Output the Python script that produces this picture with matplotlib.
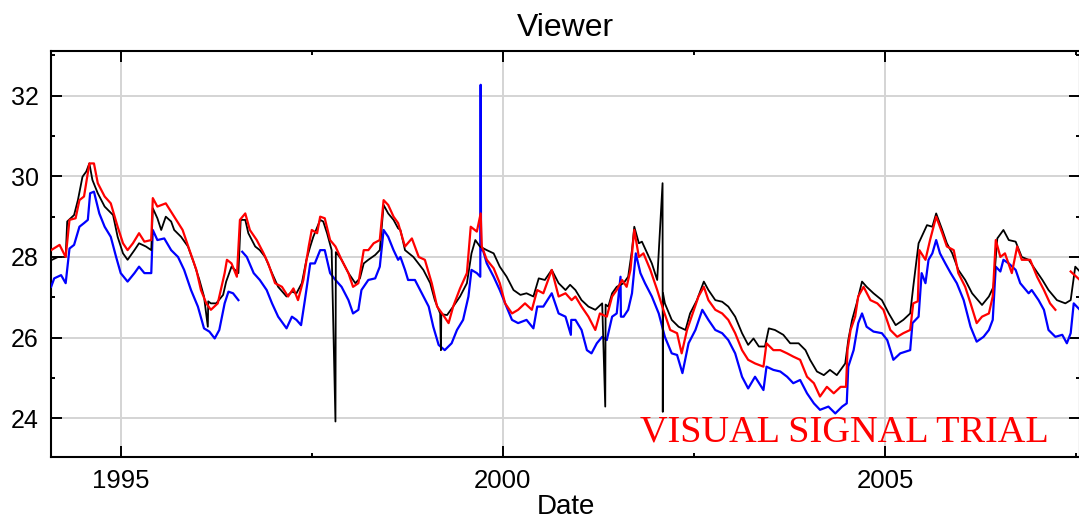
import numpy as np
import matplotlib
matplotlib.use("Agg")
import matplotlib.pyplot as plt
from matplotlib.ticker import MultipleLocator

# decimal-year dates and values
black_t = [1994.09, 1994.18, 1994.28, 1994.30, 1994.39, 1994.44, 1994.50, 1994.55, 1994.59, 1994.63,
           1994.70, 1994.79, 1994.90, 1994.96, 1995.03, 1995.09, 1995.18, 1995.24, 1995.33, 1995.40,
           1995.42, 1995.48, 1995.53, 1995.59, 1995.66, 1995.70, 1995.79, 1995.88, 1995.96, 1996.03,
           1996.09, 1996.14, 1996.145, 1996.18, 1996.25, 1996.34, 1996.38, 1996.45, 1996.54, 1996.57,
           1996.63, 1996.67, 1996.76, 1996.82, 1996.89, 1996.98, 1997.06, 1997.17, 1997.24, 1997.30,
           1997.37, 1997.43, 1997.48, 1997.52, 1997.61, 1997.65, 1997.70, 1997.76, 1997.81, 1997.815,
           1997.83, 1997.89, 1997.98, 1998.07, 1998.13, 1998.18, 1998.24, 1998.33, 1998.39, 1998.44,
           1998.50, 1998.57, 1998.63, 1998.66, 1998.72, 1998.83, 1998.96, 1999.05, 1999.11, 1999.18,
           1999.19, 1999.195, 1999.27, 1999.35, 1999.44, 1999.53, 1999.59, 1999.64, 1999.70, 1999.79,
           1999.88, 1999.96, 2000.05, 2000.14, 2000.23, 2000.31, 2000.40, 2000.47, 2000.55, 2000.64,
           2000.73, 2000.82, 2000.88, 2000.95, 2001.03, 2001.12, 2001.21, 2001.30, 2001.34, 2001.345,
           2001.38, 2001.43, 2001.49, 2001.58, 2001.64, 2001.69, 2001.72, 2001.78, 2001.82, 2001.89,
           2001.95, 2002.02, 2002.090, 2002.093, 2002.096, 2002.12, 2002.21, 2002.30, 2002.39, 2002.45,
           2002.54, 2002.63, 2002.69, 2002.78, 2002.87, 2002.95, 2003.04, 2003.13, 2003.21, 2003.28,
           2003.35, 2003.43, 2003.48, 2003.56, 2003.67, 2003.76, 2003.87, 2003.96, 2004.02, 2004.11,
           2004.20, 2004.28, 2004.37, 2004.48, 2004.52, 2004.57, 2004.63, 2004.70, 2004.76, 2004.85,
           2004.96, 2005.05, 2005.14, 2005.24, 2005.33, 2005.37, 2005.44, 2005.46, 2005.55, 2005.62,
           2005.67, 2005.75, 2005.81, 2005.88, 2005.96, 2006.05, 2006.14, 2006.27, 2006.36, 2006.42,
           2006.47, 2006.55, 2006.62, 2006.71, 2006.79, 2006.88, 2006.97, 2007.06, 2007.14, 2007.25,
           2007.36, 2007.43, 2007.49, 2007.55]
black_v = [27.92, 28.00, 28.00, 28.88, 29.04, 29.41, 29.99, 30.12, 30.32, 29.91,
           29.58, 29.25, 29.04, 28.50, 28.09, 27.93, 28.17, 28.34, 28.26, 28.17,
           29.21, 28.96, 28.67, 29.00, 28.88, 28.67, 28.50, 28.26, 27.84, 27.43,
           27.02, 26.27, 26.90, 26.85, 26.85, 27.06, 27.39, 27.76, 27.60, 28.92,
           28.92, 28.59, 28.26, 28.17, 28.00, 27.60, 27.26, 27.02, 27.14, 27.10,
           27.35, 27.93, 28.26, 28.50, 28.92, 28.88, 28.59, 28.17, 23.92, 28.12,
           28.09, 27.93, 27.60, 27.35, 27.47, 27.84, 27.93, 28.05, 28.17, 29.29,
           29.08, 28.92, 28.71, 28.67, 28.17, 28.00, 27.68, 27.35, 26.93, 26.60,
           25.69, 26.58, 26.56, 26.77, 27.02, 27.35, 28.09, 28.42, 28.26, 28.17,
           28.09, 27.76, 27.51, 27.18, 27.06, 27.10, 27.02, 27.47, 27.43, 27.68,
           27.35, 27.18, 27.31, 27.18, 26.93, 26.77, 26.69, 26.85, 24.29, 26.82,
           26.77, 27.10, 27.26, 27.35, 27.51, 28.17, 28.75, 28.34, 28.38, 28.09,
           27.84, 27.43, 29.83, 24.16, 27.10, 26.85, 26.44, 26.27, 26.19, 26.60,
           26.93, 27.39, 27.18, 26.93, 26.89, 26.77, 26.52, 26.11, 25.82, 25.98,
           25.78, 25.78, 26.23, 26.19, 26.07, 25.86, 25.86, 25.69, 25.45, 25.16,
           25.07, 25.20, 25.07, 25.36, 25.94, 26.44, 26.85, 27.39, 27.26, 27.10,
           26.93, 26.60, 26.31, 26.44, 26.60, 27.26, 28.34, 28.42, 28.79, 28.75,
           29.08, 28.67, 28.34, 28.09, 27.68, 27.43, 27.10, 26.81, 27.02, 27.26,
           28.46, 28.67, 28.42, 28.38, 28.00, 27.93, 27.68, 27.43, 27.18, 26.93,
           26.85, 26.93, 27.76, 27.64]

red_t = [1994.09, 1994.20, 1994.28, 1994.33, 1994.41, 1994.46, 1994.52, 1994.59, 1994.65, 1994.70,
         1994.79, 1994.87, 1994.96, 1995.03, 1995.09, 1995.16, 1995.24, 1995.31, 1995.40, 1995.42,
         1995.48, 1995.59, 1995.70, 1995.81, 1995.90, 1995.99, 1996.05, 1996.12, 1996.18, 1996.27,
         1996.36, 1996.39, 1996.45, 1996.52, 1996.56, 1996.63, 1996.69, 1996.78, 1996.87, 1996.93,
         1997.02, 1997.11, 1997.19, 1997.26, 1997.32, 1997.39, 1997.46, 1997.50, 1997.57, 1997.61,
         1997.67, 1997.74, 1997.81, 1997.89, 1997.98, 1998.04, 1998.11, 1998.18, 1998.24, 1998.31,
         1998.39, 1998.44, 1998.50, 1998.57, 1998.63, 1998.72, 1998.81, 1998.90, 1998.98, 1999.07,
         1999.14, 1999.22, 1999.29, 1999.35, 1999.44, 1999.53, 1999.58, 1999.66, 1999.71, 1999.725,
         1999.79, 1999.88, 1999.96, 2000.03, 2000.12, 2000.20, 2000.29, 2000.38, 2000.45, 2000.53,
         2000.64, 2000.73, 2000.82, 2000.90, 2000.95, 2001.03, 2001.12, 2001.21, 2001.27, 2001.36,
         2001.43, 2001.49, 2001.56, 2001.62, 2001.67, 2001.72, 2001.78, 2001.84, 2001.93, 2002.02,
         2002.10, 2002.19, 2002.28, 2002.34, 2002.41, 2002.47, 2002.56, 2002.63, 2002.69, 2002.78,
         2002.87, 2002.95, 2003.04, 2003.13, 2003.21, 2003.30, 2003.41, 2003.45, 2003.54, 2003.63,
         2003.72, 2003.80, 2003.89, 2003.98, 2004.07, 2004.15, 2004.24, 2004.33, 2004.42, 2004.49,
         2004.51, 2004.55, 2004.61, 2004.65, 2004.72, 2004.81, 2004.90, 2004.98, 2005.07, 2005.16,
         2005.24, 2005.33, 2005.37, 2005.43, 2005.45, 2005.53, 2005.59, 2005.67, 2005.75, 2005.81,
         2005.90, 2005.96, 2006.05, 2006.12, 2006.20, 2006.27, 2006.36, 2006.41, 2006.45, 2006.51,
         2006.57, 2006.66, 2006.73, 2006.79, 2006.90, 2006.99, 2007.08, 2007.16, 2007.23, 2007.24,
         2007.43, 2007.55]
red_v = [28.17, 28.30, 28.00, 28.92, 28.96, 29.41, 29.50, 30.32, 30.32, 29.83,
         29.50, 29.33, 28.75, 28.34, 28.17, 28.34, 28.59, 28.38, 28.42, 29.46,
         29.25, 29.33, 29.00, 28.67, 28.17, 27.68, 27.18, 26.85, 26.69, 26.85,
         27.60, 27.93, 27.84, 27.51, 28.92, 29.08, 28.67, 28.42, 28.09, 27.84,
         27.35, 27.26, 27.02, 27.22, 26.93, 27.43, 28.26, 28.67, 28.59, 29.00,
         28.96, 28.42, 28.26, 27.93, 27.60, 27.26, 27.35, 28.17, 28.17, 28.34,
         28.42, 29.41, 29.29, 29.00, 28.84, 28.26, 28.46, 28.00, 27.93, 27.35,
         26.77, 26.56, 26.36, 26.77, 27.22, 27.60, 28.75, 28.63, 29.08, 28.26,
         27.93, 27.72, 27.35, 26.85, 26.60, 26.69, 26.85, 26.69, 27.18, 27.10,
         27.68, 27.02, 27.10, 26.93, 27.02, 26.77, 26.52, 26.19, 26.60, 26.52,
         27.02, 27.18, 27.43, 27.26, 27.68, 28.67, 28.00, 28.09, 27.68, 27.18,
         26.69, 26.19, 26.11, 25.61, 26.19, 26.52, 27.02, 27.26, 26.93, 26.69,
         26.60, 26.44, 26.11, 25.69, 25.45, 25.36, 25.28, 25.86, 25.69, 25.69,
         25.61, 25.53, 25.45, 25.03, 24.87, 24.54, 24.78, 24.62, 24.78, 24.78,
         25.69, 26.19, 26.52, 27.02, 27.26, 26.93, 26.85, 26.69, 26.19, 26.02,
         26.11, 26.19, 26.85, 26.90, 28.17, 27.93, 28.42, 29.00, 28.59, 28.26,
         28.17, 27.60, 27.26, 26.85, 26.36, 26.52, 26.60, 27.02, 28.42, 28.00,
         28.09, 27.60, 28.26, 27.93, 27.93, 27.51, 27.18, 26.85, 26.69, np.nan,
         27.64, 27.43]

blue_t = [1994.09, 1994.13, 1994.22, 1994.28, 1994.33, 1994.39, 1994.46, 1994.52, 1994.57, 1994.60,
          1994.65, 1994.72, 1994.79, 1994.87, 1994.94, 1995.00, 1995.09, 1995.18, 1995.24, 1995.31,
          1995.40, 1995.42, 1995.48, 1995.57, 1995.66, 1995.75, 1995.83, 1995.92, 1996.01, 1996.09,
          1996.16, 1996.23, 1996.29, 1996.36, 1996.41, 1996.47, 1996.54, 1996.55, 1996.59, 1996.65,
          1996.74, 1996.82, 1996.91, 1996.98, 1997.06, 1997.17, 1997.24, 1997.30, 1997.36, 1997.41,
          1997.48, 1997.54, 1997.61, 1997.67, 1997.74, 1997.81, 1997.89, 1997.98, 1998.04, 1998.11,
          1998.15, 1998.24, 1998.33, 1998.39, 1998.44, 1998.50, 1998.57, 1998.63, 1998.66, 1998.72,
          1998.76, 1998.85, 1998.94, 1999.03, 1999.09, 1999.16, 1999.24, 1999.33, 1999.40, 1999.48,
          1999.55, 1999.59, 1999.66, 1999.705, 1999.71, 1999.715, 1999.74, 1999.79, 1999.88, 1999.96,
          2000.03, 2000.12, 2000.20, 2000.31, 2000.40, 2000.45, 2000.53, 2000.64, 2000.73, 2000.82,
          2000.89, 2000.895, 2000.95, 2001.03, 2001.10, 2001.16, 2001.23, 2001.30, 2001.36, 2001.43,
          2001.49, 2001.54, 2001.545, 2001.58, 2001.64, 2001.69, 2001.74, 2001.80, 2001.86, 2001.95,
          2002.04, 2002.12, 2002.21, 2002.28, 2002.35, 2002.43, 2002.52, 2002.61, 2002.69, 2002.78,
          2002.87, 2002.95, 2003.04, 2003.13, 2003.21, 2003.30, 2003.41, 2003.45, 2003.54, 2003.63,
          2003.72, 2003.80, 2003.89, 2003.98, 2004.07, 2004.15, 2004.26, 2004.35, 2004.44, 2004.50,
          2004.52, 2004.59, 2004.65, 2004.70, 2004.76, 2004.85, 2004.96, 2005.03, 2005.11, 2005.20,
          2005.33, 2005.36, 2005.44, 2005.48, 2005.53, 2005.57, 2005.62, 2005.67, 2005.72, 2005.79,
          2005.86, 2005.94, 2006.03, 2006.12, 2006.20, 2006.29, 2006.36, 2006.41, 2006.45, 2006.51,
          2006.55, 2006.62, 2006.71, 2006.77, 2006.88, 2006.92, 2007.01, 2007.08, 2007.14, 2007.23,
          2007.32, 2007.38, 2007.43, 2007.47, 2007.55]
blue_v = [27.26, 27.47, 27.55, 27.35, 28.21, 28.30, 28.75, 28.84, 28.92, 29.58,
          29.62, 29.08, 28.75, 28.50, 28.00, 27.60, 27.39, 27.60, 27.76, 27.60,
          27.60, 28.67, 28.42, 28.46, 28.17, 28.00, 27.68, 27.18, 26.77, 26.23,
          26.15, 25.98, 26.19, 26.85, 27.14, 27.10, 26.93, np.nan, 28.13, 28.00,
          27.60, 27.43, 27.18, 26.85, 26.52, 26.23, 26.52, 26.44, 26.31, 26.93,
          27.84, 27.84, 28.17, 28.17, 27.60, 27.43, 27.26, 26.93, 26.60, 26.69,
          27.18, 27.43, 27.47, 27.76, 28.67, 28.50, 28.17, 27.93, 28.00, 27.68,
          27.43, 27.43, 27.10, 26.77, 26.27, 25.82, 25.69, 25.86, 26.19, 26.44,
          27.02, 27.68, 27.60, 27.51, 32.27, 28.17, 28.17, 27.84, 27.51, 27.18,
          26.85, 26.44, 26.36, 26.44, 26.23, 26.77, 26.77, 27.10, 26.60, 26.52,
          26.07, 26.44, 26.44, 26.19, 25.69, 25.61, 25.86, 26.02, 25.94, 26.52,
          26.60, 27.51, 26.52, 26.52, 26.69, 27.10, 28.09, 27.60, 27.35, 27.02,
          26.60, 26.02, 25.61, 25.57, 25.12, 25.86, 26.19, 26.69, 26.44, 26.19,
          26.11, 25.94, 25.61, 25.03, 24.74, 25.03, 24.70, 25.28, 25.20, 25.16,
          25.03, 24.87, 24.95, 24.62, 24.37, 24.21, 24.29, 24.12, 24.29, 24.37,
          25.28, 25.69, 26.36, 26.60, 26.27, 26.15, 26.11, 25.94, 25.45, 25.61,
          25.69, 26.36, 26.52, 27.60, 27.35, 27.93, 28.09, 28.42, 28.09, 27.84,
          27.60, 27.35, 26.93, 26.27, 25.90, 26.02, 26.19, 26.44, 27.76, 27.64,
          27.93, 27.84, 27.68, 27.35, 27.10, 27.18, 26.93, 26.69, 26.19, 26.02,
          26.07, 25.86, 26.11, 26.85, 26.69]

year_ticks = [1995, 2000, 2005]
value_ticks = [24, 26, 28, 30, 32]

plt.rcParams['font.family'] = ['Liberation Sans', 'DejaVu Sans']

fig = plt.figure(figsize=(10.79, 5.2), dpi=100)
ax = fig.add_axes([51 / 1079, 63 / 520, 1029 / 1079, 406 / 520])

ax.plot(blue_t, blue_v, color='blue', lw=1.6, zorder=3)
ax.plot(black_t, black_v, color='black', lw=1.3, zorder=4)
ax.plot(red_t, red_v, color='red', lw=1.6, zorder=5)

ax.set_xlim(1994.088, 2007.552)
ax.set_ylim(23.04, 33.108)
ax.set_xticks(year_ticks)
ax.set_yticks(value_ticks)
ax.xaxis.set_minor_locator(MultipleLocator(2.5))
ax.yaxis.set_minor_locator(MultipleLocator(1))
ax.grid(True, which='major', color='#d4d4d4', lw=1.4, zorder=0)
ax.set_axisbelow(True)

ax.tick_params(which='both', direction='in', top=True, right=True, width=1.4)
ax.tick_params(which='major', length=8)
ax.tick_params(which='minor', length=3)
ax.tick_params(axis='x', labelsize=18.5, pad=9)
ax.tick_params(axis='y', labelsize=18, pad=9)
for s in ax.spines.values():
    s.set_linewidth(1.5)

ax.set_title('Viewer', fontsize=23, pad=11)
ax.set_xlabel('Date', fontsize=20, labelpad=0)

fig.text(640 / 1079, 1 - 442 / 520, 'VISUAL SIGNAL TRIAL', color='red',
         fontsize=27.5, family='Liberation Serif', va='baseline', ha='left', zorder=10)

fig.savefig('out.png', dpi=100)
